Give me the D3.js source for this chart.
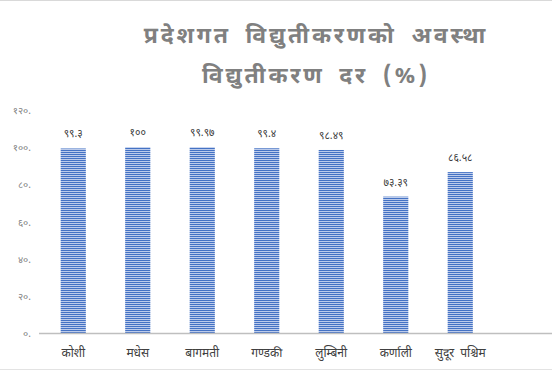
<!DOCTYPE html>
<html>
<head>
<meta charset="utf-8">
<script src="https://cdn.jsdelivr.net/npm/d3@7"></script>
<style>
  body { margin: 0; background: #fff; }
  text { font-family: "Noto Sans Devanagari", "Mangal", "Lohit Devanagari", "Noto Sans", sans-serif; }
</style>
</head>
<body>
<div id="chart"></div>
<script>
// Provinces and electrification rate (%)
const provinces = ["कोशी", "मधेस", "बागमती", "गण्डकी", "लुम्बिनी", "कर्णाली", "सुदूर पश्चिम", ""];
const rates = [99.3, 100, 99.97, 99.4, 98.49, 73.39, 86.58];
const rateLabels = ["९९.३", "१००", "९९.९७", "९९.४", "९८.४९", "७३.३९", "८६.५८"];
const yTicks = [0, 20, 40, 60, 80, 100, 120];
const yTickLabels = ["०.", "२०.", "४०.", "६०.", "८०.", "१००.", "१२०."];
const titleLines = ["प्रदेशगत विद्युतीकरणको अवस्था", "विद्युतीकरण दर (%)"];

const width = 552, height = 372;

const svg = d3.select("#chart").append("svg")
  .attr("width", width)
  .attr("height", height);

// striped bar fill
const pat = svg.append("defs").append("pattern")
  .attr("id", "stripes")
  .attr("patternUnits", "userSpaceOnUse")
  .attr("width", 4).attr("height", 2);
pat.append("rect").attr("width", 4).attr("height", 2).attr("fill", "#bccbeb");
pat.append("rect").attr("width", 4).attr("height", 1).attr("fill", "#4472c4");

// outer frame lines
svg.append("line").attr("x1", 0).attr("x2", width).attr("y1", 0.5).attr("y2", 0.5)
  .attr("stroke", "#d9d9d9");
svg.append("line").attr("x1", 0).attr("x2", width).attr("y1", 369.5).attr("y2", 369.5)
  .attr("stroke", "#e3e3e3");

// title
svg.append("g").selectAll("text")
  .data(titleLines)
  .join("text")
  .attr("x", 316)
  .attr("y", (d, i) => 43 + i * 40)
  .attr("text-anchor", "middle")
  .attr("font-size", 23)
  .attr("font-weight", "bold")
  .attr("fill", "#808080")
  .attr("letter-spacing", 2.8)
  .attr("word-spacing", 6)
  .text(d => d);

const x = d3.scaleBand()
  .domain(provinces.map((d, i) => i))
  .range([41, 557])
  .paddingInner(0.61)
  .paddingOuter(0.305);

const y = d3.scaleLinear()
  .domain([0, 120])
  .range([333, 110]);

// y labels
svg.append("g").selectAll("text")
  .data(yTicks)
  .join("text")
  .attr("x", 31)
  .attr("y", d => y(d) + 4)
  .attr("text-anchor", "end")
  .attr("font-size", 10)
  .attr("fill", "#7f7f7f")
  .text((d, i) => yTickLabels[i]);

// bars
svg.append("g").selectAll("rect")
  .data(rates)
  .join("rect")
  .attr("x", (d, i) => x(i))
  .attr("width", x.bandwidth())
  .attr("y", d => y(d))
  .attr("height", d => y(0) - y(d))
  .attr("fill", "url(#stripes)");

// value labels
svg.append("g").selectAll("text")
  .data(rates)
  .join("text")
  .attr("x", (d, i) => x(i) + x.bandwidth() / 2)
  .attr("y", d => y(d) - 11)
  .attr("text-anchor", "middle")
  .attr("font-size", 10.5)
  .attr("fill", "#404040")
  .text((d, i) => rateLabels[i]);

// baseline
svg.append("line")
  .attr("x1", 39).attr("x2", width)
  .attr("y1", y(0) + 0.5).attr("y2", y(0) + 0.5)
  .attr("stroke", "#bfbfbf")
  .attr("stroke-width", 1.5);

// category labels
svg.append("g").selectAll("text")
  .data(provinces.slice(0, 7))
  .join("text")
  .attr("x", (d, i) => x(i) + x.bandwidth() / 2)
  .attr("y", 357)
  .attr("text-anchor", "middle")
  .attr("font-size", 12)
  .attr("word-spacing", 3)
  .attr("fill", "#404040")
  .text(d => d);
</script>
</body>
</html>
